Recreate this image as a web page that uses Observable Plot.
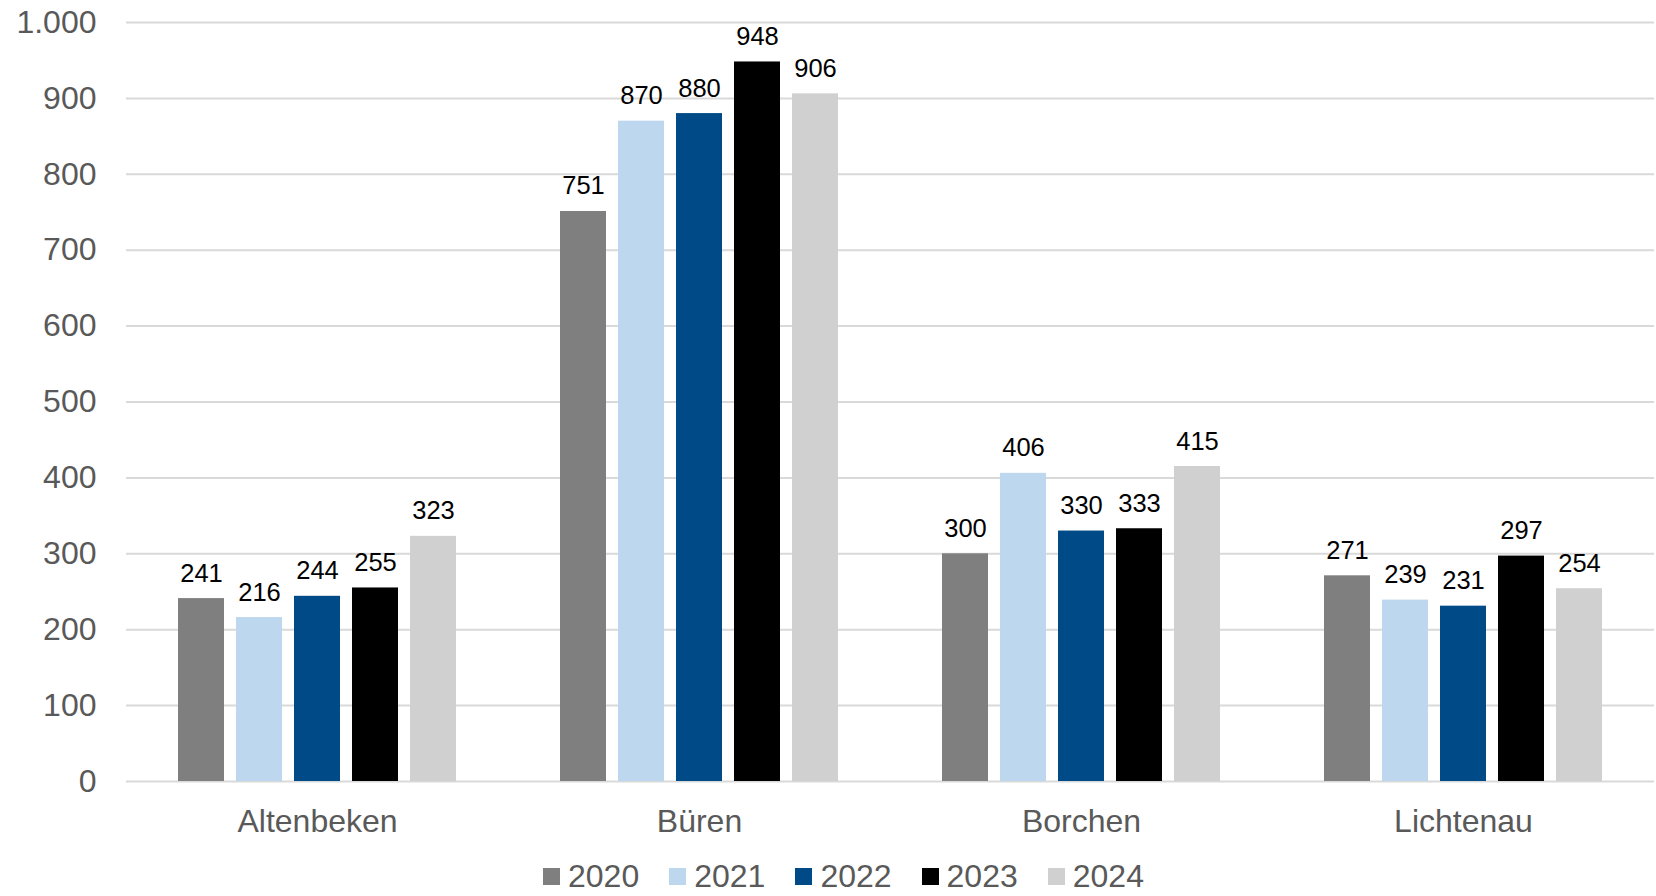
<!DOCTYPE html>
<html>
<head>
<meta charset="utf-8">
<script src="https://cdn.jsdelivr.net/npm/d3@7"></script>
<script src="https://cdn.jsdelivr.net/npm/@observablehq/plot@0.6"></script>
<style>
  html, body { margin: 0; padding: 0; background: #fff; }
  #chart svg { display: block; }
  .lg-swatch > svg { margin-right: 8px !important; }
  .lg-swatches-wrap .lg-swatch { margin-right: 30px !important; }
</style>
</head>
<body>
<div id="chart"></div>
<script>
const categories = ["Altenbeken", "Büren", "Borchen", "Lichtenau"];
const years = ["2020", "2021", "2022", "2023", "2024"];
const v2020 = [241, 751, 300, 271];
const v2021 = [216, 870, 406, 239];
const v2022 = [244, 880, 330, 231];
const v2023 = [255, 948, 333, 297];
const v2024 = [323, 906, 415, 254];
const colors = ["#7f7f7f", "#bdd7ee", "#004b87", "#000000", "#d0d0d0"];
const yTicks = [0, 100, 200, 300, 400, 500, 600, 700, 800, 900, 1000];

const series = [v2020, v2021, v2022, v2023, v2024];
const data = [];
categories.forEach((c, i) => {
  years.forEach((y, j) => data.push({category: c, year: y, value: series[j][i]}));
});

const de = d3.formatLocale({decimal: ",", thousands: ".", grouping: [3], currency: ["", " €"]});
const fmt = de.format(",d");
const font = "'Liberation Sans', Arial, sans-serif";

const plot = Plot.plot({
  width: 1656,
  height: 858,
  marginLeft: 125,
  marginRight: 1,
  marginTop: 22,
  marginBottom: 77,
  style: {fontFamily: font, color: "#595959", background: "#fff"},
  fx: {domain: categories, padding: 0, label: null},
  x: {domain: years, paddingInner: 0.2, paddingOuter: 0.86, axis: null},
  y: {domain: [0, 1000], label: null},
  color: {domain: years, range: colors},
  marks: [
    Plot.gridY(yTicks, {stroke: "#d9d9d9", strokeWidth: 2, strokeOpacity: 1}),
    Plot.axisY({ticks: yTicks, tickFormat: fmt, tickSize: 0, tickPadding: 30, fontSize: 32, label: null}),
    Plot.axisFx({anchor: "bottom", tickSize: 0, tickPadding: 28, fontSize: 32, label: null}),
    Plot.barY(data, {fx: "category", x: "year", y: "value", fill: "year"}),
    Plot.text(data, {fx: "category", x: "year", y: "value", text: d => fmt(d.value),
      lineAnchor: "bottom", dy: -17, fontSize: 25.5, fill: "#000"})
  ]
});
document.getElementById("chart").appendChild(plot);

const legend = Plot.legend({
  color: {type: "ordinal", domain: years, range: colors},
  legend: "swatches",
  swatchSize: 17,
  className: "lg",
  style: {fontFamily: font, fontSize: "32px", color: "#595959", marginLeft: "543px", marginTop: "0px", marginBottom: "0px", background: "transparent"}
});
document.getElementById("chart").appendChild(legend);
</script>
</body>
</html>
